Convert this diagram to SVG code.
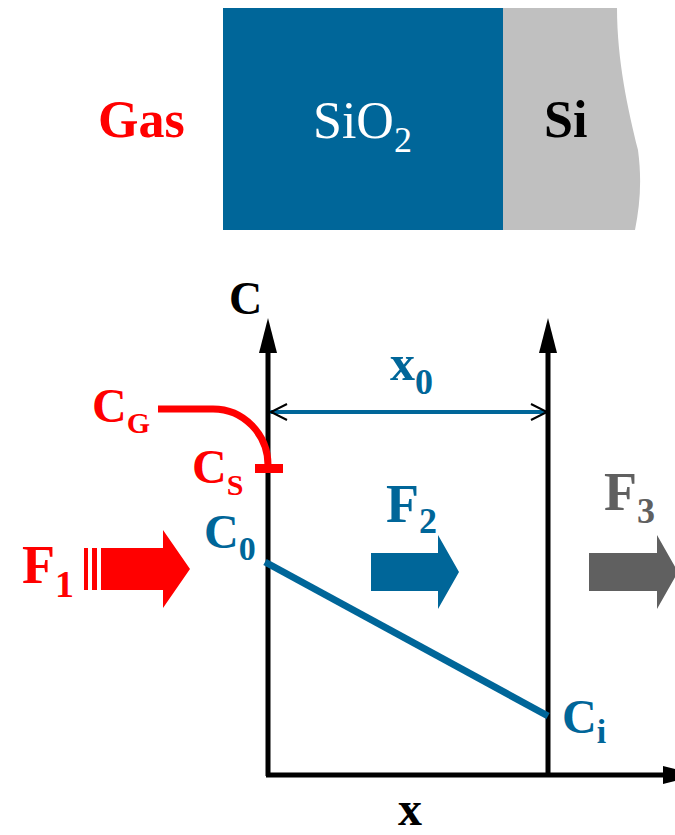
<svg xmlns="http://www.w3.org/2000/svg" width="675" height="835" viewBox="0 0 675 835">
<style>
text{font-family:"Liberation Serif","Times New Roman",serif;font-weight:bold}
.red{fill:#ff0000}.blue{fill:#006699}.gray{fill:#606060}.blk{fill:#000}
.axis{stroke:#000;stroke-width:5;fill:none}
</style>
<defs>
<marker id="ah" viewBox="0 0 35 18" refX="1" refY="9" markerWidth="35" markerHeight="18" markerUnits="userSpaceOnUse" orient="auto"><path d="M0,0 L35,9 L0,18 Z" fill="#000"/></marker>
</defs>
<g id="layers">
<rect x="223" y="8" width="280" height="222" fill="#006699"/>
<path d="M503,8 L617,8 C617,60 628,110 638,150 C642,180 640,205 635,230 L503,230 Z" fill="#c0c0c0"/>
<text x="98" y="137" font-size="52" class="red">Gas</text>
<text x="313" y="138" font-size="52" style="font-weight:normal" fill="#fff">SiO<tspan font-size="36" dy="14">2</tspan></text>
<text x="544" y="137" font-size="52" class="blk">Si</text>
</g>
<g id="connectors">
<line class="axis" x1="268" y1="776" x2="268" y2="352" marker-end="url(#ah)"/>
<line class="axis" x1="548" y1="776" x2="548" y2="352" marker-end="url(#ah)"/>
<line class="axis" x1="266" y1="775" x2="664" y2="775" marker-end="url(#ah)"/>
<line x1="270" y1="412" x2="546" y2="412" stroke="#006699" stroke-width="4"/>
<path d="M287,404 L271,412 L287,420 M531,404 L547,412 L531,420" stroke="#000" stroke-width="2" fill="none"/>
<path d="M158,409 L213,409 A55,56 0 0 1 268,465" stroke="#ff0000" stroke-width="7" fill="none"/>
<rect x="255" y="464" width="28" height="9" fill="#ff0000"/>
<line x1="265" y1="562" x2="548" y2="716" stroke="#006699" stroke-width="7"/>
</g>
<g id="flux1">
<rect x="84" y="548" width="4" height="42" fill="#ff0000"/>
<rect x="92" y="548" width="5" height="42" fill="#ff0000"/>
<path d="M101,548 L163,548 L163,530 L190,569 L163,608 L163,590 L101,590 Z" fill="#ff0000"/>
<text x="22" y="583" font-size="54" class="red">F<tspan font-size="38" dy="14">1</tspan></text>
</g>
<g id="flux2">
<path d="M371,553 L438,553 L438,535 L459,572 L438,609 L438,591 L371,591 Z" fill="#006699"/>
<text x="386" y="522" font-size="54" class="blue">F<tspan font-size="36" dy="11">2</tspan></text>
</g>
<g id="flux3">
<path d="M589,553 L657,553 L657,535 L678,572 L657,609 L657,591 L589,591 Z" fill="#606060"/>
<text x="604" y="510" font-size="54" class="gray">F<tspan font-size="36" dy="13">3</tspan></text>
</g>
<g id="labels">
<text x="229" y="314" font-size="46" class="blk">C</text>
<text x="390" y="380" font-size="50" class="blue">x<tspan font-size="36" dy="14">0</tspan></text>
<text x="92" y="422" font-size="48" class="red">C<tspan font-size="30" dy="11">G</tspan></text>
<text x="192" y="483" font-size="48" class="red">C<tspan font-size="30" dy="12">S</tspan></text>
<text x="204" y="548" font-size="48" class="blue">C<tspan font-size="34" dy="12">0</tspan></text>
<text x="562" y="733" font-size="48" class="blue">C<tspan font-size="34" dy="10">i</tspan></text>
<text x="398" y="825" font-size="48" class="blk">x</text>
</g>
</svg>
